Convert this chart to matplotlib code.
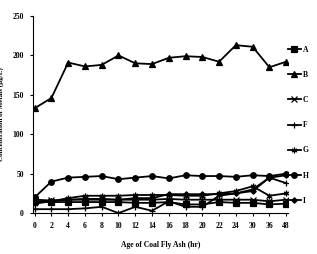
import matplotlib
matplotlib.use("Agg")
import matplotlib.pyplot as plt

ages = ["0", "2", "4", "6", "8", "10", "12", "14", "16", "18", "20", "22", "24", "30", "36", "48"]
A = [15, 14, 14, 14, 14, 14, 13, 13, 14, 11, 11, 14, 13, 13, 11, 12]
B = [133, 146, 191, 186, 188, 200, 190, 189, 197, 199, 198, 192, 213, 211, 185, 192]
C = [17, 16, 17, 18, 18, 17, 17, 17, 18, 17, 17, 17, 17, 17, 15, 17]
F = [5, 5, 5, 6, 8, 0, 8, 3, 15, 8, 8, 22, 25, 30, 45, 38]
G = [12, 15, 19, 22, 22, 22, 23, 23, 23, 22, 22, 25, 28, 34, 22, 25]
H = [20, 40, 45, 46, 47, 43, 45, 47, 44, 48, 47, 47, 46, 48, 47, 50]
I = [14, 15, 17, 17, 17, 17, 19, 19, 24, 24, 24, 24, 25, 28, 45, 48]

series = [("A", A, "s"), ("B", B, "^"), ("C", C, "x"), ("F", F, "+"),
          ("G", G, (6, 2, 0)), ("H", H, "o"), ("I", I, "D")]

plt.rcParams["font.family"] = ["Liberation Serif", "DejaVu Serif"]
plt.rcParams["font.weight"] = "bold"

fig = plt.figure(figsize=(3.17, 2.54), dpi=100)
ax = fig.add_axes([0.104, 0.161, 0.804, 0.776])
x = list(range(len(ages)))
for name, ys, mk in series:
    ms = 4 if mk != "D" else 2.8
    ax.plot(x, ys, "-", color="black", lw=1.3, marker=mk, ms=ms, mew=0.9, label=name)

ax.set_xlim(-0.1, len(ages) - 0.9)
ax.set_ylim(0, 250)
ax.set_xticks(x)
ax.set_xticklabels(ages)
ax.set_yticks([0, 50, 100, 150, 200, 250])
ax.tick_params(labelsize=5.5, length=2.5, width=0.8, pad=4)
ax.spines["top"].set_visible(False)
ax.spines["right"].set_visible(False)
ax.set_xlabel("Age of Coal Fly Ash (hr)", fontsize=5.5, fontweight="bold", labelpad=8)
ax.set_ylabel("Concentration of Metals (µg/L)", fontsize=5, fontweight="bold", labelpad=6)
ax.legend(loc="upper left", bbox_to_anchor=(0.99, 0.865), frameon=False, fontsize=5.5,
          handlelength=1.6, labelspacing=2.25, handletextpad=0.3, borderaxespad=0)

fig.savefig("out.png", dpi=100)
